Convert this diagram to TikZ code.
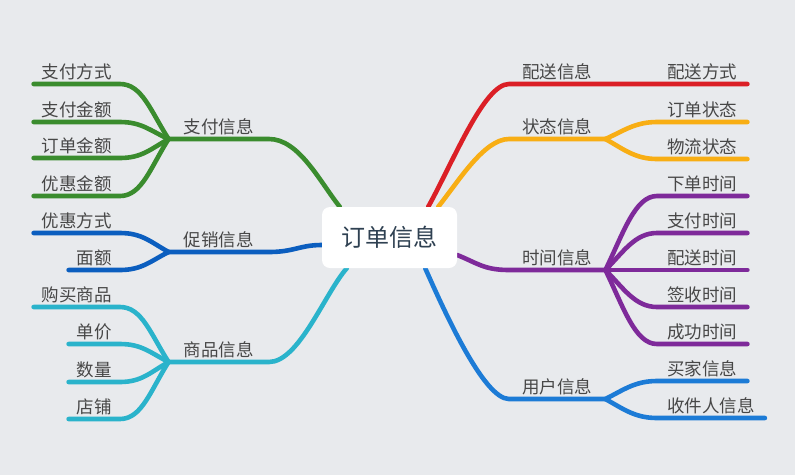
\documentclass[tikz,border=0pt]{standalone}
\usepackage{fontspec}
\setmainfont{Noto Sans CJK SC}
\pgfdeclarelayer{bgfill}
\pgfdeclarelayer{lines}
\pgfsetlayers{bgfill,lines,main}
\definecolor{bgc}{HTML}{E8EAED}
\definecolor{txt}{HTML}{474747}
\definecolor{ctxt}{HTML}{2F4152}
\definecolor{cgreen}{HTML}{3A8C2E}
\definecolor{cpromo}{HTML}{0B5EBF}
\definecolor{cteal}{HTML}{2AB3CB}
\definecolor{cred}{HTML}{DB1F26}
\definecolor{corange}{HTML}{F8AE14}
\definecolor{cpurple}{HTML}{7E2A9A}
\definecolor{cuser}{HTML}{1C7BD6}
\tikzset{
  lbl/.style={text=txt, font=\fontsize{17.5}{20}\selectfont, inner ysep=0pt, text height=14pt, text depth=5.5pt},
  leafL/.style={lbl, inner xsep=8pt, anchor=south east},
  leafR/.style={lbl, inner xsep=10pt, anchor=south west},
  branchL/.style={lbl, inner xsep=15pt, anchor=south east},
  branchR/.style={lbl, inner xsep=13pt, anchor=south west},
  wire/.style={line width=4.6pt, line cap=round, line join=round},
  center/.style={rectangle, rounded corners=8pt, fill=white, text=ctxt, minimum width=135pt, minimum height=61pt, font=\fontsize{24}{28}\selectfont}
}
\begin{document}
\begin{tikzpicture}[x=1pt,y=-1pt]
\useasboundingbox (0,0) rectangle (795,475);
\begin{pgfonlayer}{bgfill}
\fill[bgc] (0,0) rectangle (795,475);
\end{pgfonlayer}

\node[center] (c) at (389.5,237.5) {订单信息};

% left branch labels
\node[branchL] (g) at (269,139) {支付信息};
\node[branchL] (p) at (269,252) {促销信息};
\node[branchL] (t) at (269,362) {商品信息};
% left leaves
\node[leafL] (g1) at (120,84) {支付方式};
\node[leafL] (g2) at (120,122) {支付金额};
\node[leafL] (g3) at (120,158) {订单金额};
\node[leafL] (g4) at (120,196) {优惠金额};
\node[leafL] (p1) at (120,233) {优惠方式};
\node[leafL] (p2) at (120,270) {面额};
\node[leafL] (t1) at (120,307) {购买商品};
\node[leafL] (t2) at (120,344) {单价};
\node[leafL] (t3) at (120,382) {数量};
\node[leafL] (t4) at (120,419) {店铺};

% right branch labels
\node[branchR] (r) at (509,84) {配送信息};
\node[branchR] (o) at (509,139) {状态信息};
\node[branchR] (m) at (509,270) {时间信息};
\node[branchR] (u) at (509,399) {用户信息};
% right leaves
\node[leafR] (r1) at (657,84) {配送方式};
\node[leafR] (o1) at (657,122) {订单状态};
\node[leafR] (o2) at (657,159) {物流状态};
\node[leafR] (m1) at (657,196) {下单时间};
\node[leafR] (m2) at (657,233) {支付时间};
\node[leafR] (m3) at (657,270) {配送时间};
\node[leafR] (m4) at (657,307) {签收时间};
\node[leafR] (m5) at (657,344) {成功时间};
\node[leafR] (u1) at (657,381) {买家信息};
\node[leafR] (u2) at (657,418) {收件人信息};

\begin{pgfonlayer}{lines}
% green
\draw[wire,cgreen] ([xshift=18pt]c.north west) .. controls +(-20,-25) and +(30,0) .. (g.south east) -- (g.south west);
\draw[wire,cgreen] (g1.south west) -- (g1.south east) .. controls +(22,0) and +(-18,-28) .. (g.south west);
\draw[wire,cgreen] (g2.south west) -- (g2.south east) .. controls +(22,0) and +(-18,-8) .. (g.south west);
\draw[wire,cgreen] (g3.south west) -- (g3.south east) .. controls +(22,0) and +(-18,10) .. (g.south west);
\draw[wire,cgreen] (g4.south west) -- (g4.south east) .. controls +(22,0) and +(-18,28) .. (g.south west);
% promo
\draw[wire,cpromo] ([yshift=-7.5pt]c.west) .. controls +(-22,0) and +(25,0) .. (p.south east) -- (p.south west);
\draw[wire,cpromo] (p1.south west) -- (p1.south east) .. controls +(22,0) and +(-18,-10) .. (p.south west);
\draw[wire,cpromo] (p2.south west) -- (p2.south east) .. controls +(22,0) and +(-18,9) .. (p.south west);
% teal
\draw[wire,cteal] ([xshift=25pt]c.south west) .. controls +(-22,25) and +(30,0) .. (t.south east) -- (t.south west);
\draw[wire,cteal] (t1.south west) -- (t1.south east) .. controls +(22,0) and +(-18,-28) .. (t.south west);
\draw[wire,cteal] (t2.south west) -- (t2.south east) .. controls +(22,0) and +(-18,-9) .. (t.south west);
\draw[wire,cteal] (t3.south west) -- (t3.south east) .. controls +(22,0) and +(-18,10) .. (t.south west);
\draw[wire,cteal] (t4.south west) -- (t4.south east) .. controls +(22,0) and +(-18,28) .. (t.south west);
% red
\draw[wire,cred] ([xshift=-29pt]c.north east) .. controls +(25,-45) and +(-25,0) .. (r.south west) -- (r.south east) -- (r1.south west) -- (r1.south east);
% orange
\draw[wire,corange] ([xshift=-19pt]c.north east) .. controls +(20,-25) and +(-25,0) .. (o.south west) -- (o.south east);
\draw[wire,corange] (o.south east) .. controls +(18,-8) and +(-22,0) .. (o1.south west) -- (o1.south east);
\draw[wire,corange] (o.south east) .. controls +(18,10) and +(-22,0) .. (o2.south west) -- (o2.south east);
% purple
\draw[wire,cpurple] ([yshift=-17.5pt]c.east) .. controls +(20,8) and +(-25,0) .. (m.south west) -- (m.south east);
\draw[wire,cpurple] (m.south east) .. controls +(18,-37) and +(-22,0) .. (m1.south west) -- (m1.south east);
\draw[wire,cpurple] (m.south east) .. controls +(18,-18) and +(-22,0) .. (m2.south west) -- (m2.south east);
\draw[wire,cpurple] (m.south east) -- (m3.south west) -- (m3.south east);
\draw[wire,cpurple] (m.south east) .. controls +(18,18) and +(-22,0) .. (m4.south west) -- (m4.south east);
\draw[wire,cpurple] (m.south east) .. controls +(18,37) and +(-22,0) .. (m5.south west) -- (m5.south east);
% user
\draw[wire,cuser] ([xshift=-32pt]c.south east) .. controls +(20,45) and +(-25,0) .. (u.south west) -- (u.south east);
\draw[wire,cuser] (u.south east) .. controls +(18,-9) and +(-22,0) .. (u1.south west) -- (u1.south east);
\draw[wire,cuser] (u.south east) .. controls +(18,10) and +(-22,0) .. (u2.south west) -- (u2.south east);
\end{pgfonlayer}
\end{tikzpicture}
\end{document}
